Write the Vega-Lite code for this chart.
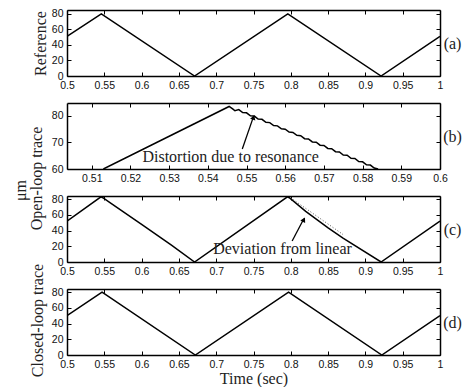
{
  "$schema": "https://vega.github.io/schema/vega-lite/v6.json",
  "padding": {"left": 12, "top": 8, "right": 0, "bottom": 0},
  "autosize": {"type": "pad"},
  "background": "white",
  "config": {
    "view": {"stroke": null},
    "axis": {"domainColor": "black", "domainWidth": 1.5, "tickColor": "black", "tickWidth": 1, "tickSize": -4, "grid": false, "labelFont": "Liberation Sans", "labelFontSize": 10.5, "labelColor": "#111", "titleFont": "Liberation Serif", "titleFontSize": 16, "titleFontWeight": "normal", "titleColor": "#222", "labelPadding": 8, "labelFlush": false, "format": "~r"},
    "line": {"color": "black", "strokeWidth": 1.5},
    "text": {"font": "Liberation Serif", "fontSize": 16, "color": "#222"}
  },
  "datasets": {
    "ref": [{"t": 0.5, "y": 51}, {"t": 0.546, "y": 80}, {"t": 0.671, "y": 0}, {"t": 0.796, "y": 80}, {"t": 0.921, "y": 0}, {"t": 1.0, "y": 51}],
    "olzoom": [{"t": 0.513, "y": 60}, {"t": 0.5455, "y": 83.4}, {"t": 0.5465, "y": 82.4}, {"t": 0.547, "y": 81.8}, {"t": 0.548, "y": 82.25}, {"t": 0.549, "y": 81.14}, {"t": 0.55, "y": 81.03}, {"t": 0.551, "y": 79.92}, {"t": 0.552, "y": 79.81}, {"t": 0.553, "y": 78.7}, {"t": 0.554, "y": 78.58}, {"t": 0.555, "y": 77.47}, {"t": 0.556, "y": 77.36}, {"t": 0.557, "y": 76.25}, {"t": 0.558, "y": 76.14}, {"t": 0.559, "y": 75.03}, {"t": 0.56, "y": 74.92}, {"t": 0.561, "y": 73.81}, {"t": 0.562, "y": 73.7}, {"t": 0.563, "y": 72.59}, {"t": 0.564, "y": 72.47}, {"t": 0.565, "y": 71.36}, {"t": 0.566, "y": 71.25}, {"t": 0.567, "y": 70.14}, {"t": 0.568, "y": 70.03}, {"t": 0.569, "y": 68.92}, {"t": 0.57, "y": 68.81}, {"t": 0.571, "y": 67.7}, {"t": 0.572, "y": 67.59}, {"t": 0.573, "y": 66.48}, {"t": 0.574, "y": 66.36}, {"t": 0.575, "y": 65.25}, {"t": 0.576, "y": 65.14}, {"t": 0.577, "y": 64.03}, {"t": 0.578, "y": 63.92}, {"t": 0.579, "y": 62.81}, {"t": 0.58, "y": 62.7}, {"t": 0.581, "y": 61.59}, {"t": 0.582, "y": 61.48}, {"t": 0.583, "y": 60.37}, {"t": 0.584, "y": 60.0}],
    "ol": [{"t": 0.5, "y": 52}, {"t": 0.5455, "y": 83}, {"t": 0.548, "y": 81.8}, {"t": 0.56, "y": 74}, {"t": 0.6, "y": 48}, {"t": 0.64, "y": 21.5}, {"t": 0.671, "y": 0}, {"t": 0.7955, "y": 83}, {"t": 0.798, "y": 81.8}, {"t": 0.82, "y": 64.5}, {"t": 0.85, "y": 43.5}, {"t": 0.87, "y": 30.5}, {"t": 0.921, "y": 0}, {"t": 1.0, "y": 52}],
    "linear": [{"t": 0.8, "y": 81.5}, {"t": 0.87, "y": 35}],
    "cl": [{"t": 0.5, "y": 50}, {"t": 0.547, "y": 80}, {"t": 0.672, "y": 0}, {"t": 0.797, "y": 80}, {"t": 0.922, "y": 0}, {"t": 1.0, "y": 50}]
  },
  "spacing": 27,
  "bounds": "flush",
  "vconcat": [
    {
      "width": 373, "height": 66,
      "data": {"name": "ref"},
      "layer": [
        {"mark": {"type": "line", "clip": true},
         "encoding": {
           "x": {"field": "t", "type": "quantitative", "scale": {"domain": [0.5, 1], "nice": false, "zero": false},
                 "axis": {"orient": "bottom", "values": [0.5, 0.55, 0.6, 0.65, 0.7, 0.75, 0.8, 0.85, 0.9, 0.95, 1], "title": null}},
           "y": {"field": "y", "type": "quantitative", "scale": {"domain": [0, 85], "nice": false},
                 "axis": {"orient": "left", "values": [0, 20, 40, 60, 80], "title": "Reference", "titleAngle": -90, "titleX": -27, "titleY": 33, "titleAlign": "center", "titleBaseline": "middle"}}
         }},
        {"mark": {"type": "line", "strokeOpacity": 0},
         "encoding": {
           "x": {"field": "t", "type": "quantitative", "scale": {"domain": [0.5, 1], "nice": false, "zero": false},
                 "axis": {"orient": "top", "values": [0.5, 0.55, 0.6, 0.65, 0.7, 0.75, 0.8, 0.85, 0.9, 0.95, 1], "labels": false, "title": null}},
           "y": {"field": "y", "type": "quantitative", "scale": {"domain": [0, 85], "nice": false},
                 "axis": {"orient": "right", "values": [0, 20, 40, 60, 80], "labels": false, "title": "(a)", "titleAngle": 0, "titleX": 12, "titleY": 33, "titleAlign": "center", "titleBaseline": "middle"}}
         }}
      ],
      "resolve": {"axis": {"x": "independent", "y": "independent"}}
    },
    {
      "width": 373, "height": 66,
      "layer": [
        {"data": {"name": "olzoom"},
         "mark": {"type": "line", "clip": true},
         "encoding": {
           "x": {"field": "t", "type": "quantitative", "scale": {"domain": [0.5036, 0.6], "nice": false, "zero": false},
                 "axis": {"orient": "bottom", "values": [0.51, 0.52, 0.53, 0.54, 0.55, 0.56, 0.57, 0.58, 0.59, 0.6], "title": null}},
           "y": {"field": "y", "type": "quantitative", "scale": {"domain": [60, 84.7], "nice": false, "zero": false},
                 "axis": {"orient": "left", "values": [60, 70, 80], "title": "μm", "titleAngle": -90, "titleX": -47, "titleY": 87, "titleAlign": "center", "titleBaseline": "middle"}}
         }},
        {"data": {"name": "olzoom"},
         "mark": {"type": "line", "strokeOpacity": 0},
         "encoding": {
           "x": {"field": "t", "type": "quantitative", "scale": {"domain": [0.5036, 0.6], "nice": false, "zero": false},
                 "axis": {"orient": "top", "values": [0.51, 0.52, 0.53, 0.54, 0.55, 0.56, 0.57, 0.58, 0.59, 0.6], "labels": false, "title": null}},
           "y": {"field": "y", "type": "quantitative", "scale": {"domain": [60, 84.7], "nice": false, "zero": false},
                 "axis": {"orient": "right", "values": [60, 70, 80], "labels": false, "title": "(b)", "titleAngle": 0, "titleX": 12, "titleY": 33, "titleAlign": "center", "titleBaseline": "middle"}}
         }},
        {"data": {"values": [{"t": 0.5231, "y": 62.6, "label": "Distortion due to resonance"}]},
         "mark": {"type": "text", "align": "left", "baseline": "alphabetic"},
         "encoding": {
           "x": {"field": "t", "type": "quantitative", "scale": {"domain": [0.5036, 0.6], "nice": false, "zero": false}, "axis": null},
           "y": {"field": "y", "type": "quantitative", "scale": {"domain": [60, 84.7], "nice": false, "zero": false}, "axis": null},
           "text": {"field": "label"}
         }},
        {"data": {"values": [{"t1": 0.5489, "y1": 67.5, "t2": 0.5518, "y2": 79.6}]},
         "mark": {"type": "rule", "color": "black", "strokeWidth": 1.3},
         "encoding": {
           "x": {"field": "t1", "type": "quantitative", "scale": {"domain": [0.5036, 0.6], "nice": false, "zero": false}, "axis": null},
           "y": {"field": "y1", "type": "quantitative", "scale": {"domain": [60, 84.7], "nice": false, "zero": false}, "axis": null},
           "x2": {"field": "t2"},
           "y2": {"field": "y2"}
         }},
        {"data": {"values": [{"t": 0.5518, "y": 79.3}]},
         "mark": {"type": "point", "shape": "triangle-up", "filled": true, "size": 30, "angle": 19, "color": "black", "opacity": 1},
         "encoding": {
           "x": {"field": "t", "type": "quantitative", "scale": {"domain": [0.5036, 0.6], "nice": false, "zero": false}, "axis": null},
           "y": {"field": "y", "type": "quantitative", "scale": {"domain": [60, 84.7], "nice": false, "zero": false}, "axis": null}
         }}
      ],
      "resolve": {"axis": {"x": "independent", "y": "independent"}}
    },
    {
      "width": 373, "height": 66,
      "layer": [
        {"data": {"name": "ol"},
         "mark": {"type": "line", "clip": true},
         "encoding": {
           "x": {"field": "t", "type": "quantitative", "scale": {"domain": [0.5, 1], "nice": false, "zero": false},
                 "axis": {"orient": "bottom", "values": [0.5, 0.55, 0.6, 0.65, 0.7, 0.75, 0.8, 0.85, 0.9, 0.95, 1], "title": null}},
           "y": {"field": "y", "type": "quantitative", "scale": {"domain": [0, 84], "nice": false},
                 "axis": {"orient": "left", "values": [0, 20, 40, 60, 80], "title": "Open-loop trace", "titleAngle": -90, "titleX": -31, "titleY": -18, "titleAlign": "center", "titleBaseline": "middle"}}
         }},
        {"data": {"name": "ol"},
         "mark": {"type": "line", "strokeOpacity": 0},
         "encoding": {
           "x": {"field": "t", "type": "quantitative", "scale": {"domain": [0.5, 1], "nice": false, "zero": false},
                 "axis": {"orient": "top", "values": [0.5, 0.55, 0.6, 0.65, 0.7, 0.75, 0.8, 0.85, 0.9, 0.95, 1], "labels": false, "title": null}},
           "y": {"field": "y", "type": "quantitative", "scale": {"domain": [0, 84], "nice": false},
                 "axis": {"orient": "right", "values": [0, 20, 40, 60, 80], "labels": false, "title": "(c)", "titleAngle": 0, "titleX": 12, "titleY": 33, "titleAlign": "center", "titleBaseline": "middle"}}
         }},
        {"data": {"name": "linear"},
         "mark": {"type": "line", "strokeDash": [1, 2], "strokeWidth": 1, "color": "#555"},
         "encoding": {
           "x": {"field": "t", "type": "quantitative", "scale": {"domain": [0.5, 1], "nice": false, "zero": false}, "axis": null},
           "y": {"field": "y", "type": "quantitative", "scale": {"domain": [0, 84], "nice": false}, "axis": null}
         }},
        {"data": {"values": [{"t": 0.696, "y": 10.2, "label": "Deviation from linear"}]},
         "mark": {"type": "text", "align": "left", "baseline": "alphabetic"},
         "encoding": {
           "x": {"field": "t", "type": "quantitative", "scale": {"domain": [0.5, 1], "nice": false, "zero": false}, "axis": null},
           "y": {"field": "y", "type": "quantitative", "scale": {"domain": [0, 84], "nice": false}, "axis": null},
           "text": {"field": "label"}
         }},
        {"data": {"values": [{"t1": 0.8018, "y1": 26.7, "t2": 0.8175, "y2": 55}]},
         "mark": {"type": "rule", "color": "black", "strokeWidth": 1.3},
         "encoding": {
           "x": {"field": "t1", "type": "quantitative", "scale": {"domain": [0.5, 1], "nice": false, "zero": false}, "axis": null},
           "y": {"field": "y1", "type": "quantitative", "scale": {"domain": [0, 84], "nice": false}, "axis": null},
           "x2": {"field": "t2"},
           "y2": {"field": "y2"}
         }},
        {"data": {"values": [{"t": 0.8175, "y": 54}]},
         "mark": {"type": "point", "shape": "triangle-up", "filled": true, "size": 30, "angle": 28, "color": "black", "opacity": 1},
         "encoding": {
           "x": {"field": "t", "type": "quantitative", "scale": {"domain": [0.5, 1], "nice": false, "zero": false}, "axis": null},
           "y": {"field": "y", "type": "quantitative", "scale": {"domain": [0, 84], "nice": false}, "axis": null}
         }}
      ],
      "resolve": {"axis": {"x": "independent", "y": "independent"}}
    },
    {
      "width": 373, "height": 66,
      "data": {"name": "cl"},
      "layer": [
        {"mark": {"type": "line", "clip": true},
         "encoding": {
           "x": {"field": "t", "type": "quantitative", "scale": {"domain": [0.5, 1], "nice": false, "zero": false},
                 "axis": {"orient": "bottom", "values": [0.5, 0.55, 0.6, 0.65, 0.7, 0.75, 0.8, 0.85, 0.9, 0.95, 1], "title": "Time (sec)", "titlePadding": 1}},
           "y": {"field": "y", "type": "quantitative", "scale": {"domain": [0, 84], "nice": false},
                 "axis": {"orient": "left", "values": [0, 20, 40, 60, 80], "title": "Closed-loop trace", "titleAngle": -90, "titleX": -30, "titleY": 31, "titleAlign": "center", "titleBaseline": "middle"}}
         }},
        {"mark": {"type": "line", "strokeOpacity": 0},
         "encoding": {
           "x": {"field": "t", "type": "quantitative", "scale": {"domain": [0.5, 1], "nice": false, "zero": false},
                 "axis": {"orient": "top", "values": [0.5, 0.55, 0.6, 0.65, 0.7, 0.75, 0.8, 0.85, 0.9, 0.95, 1], "labels": false, "title": null}},
           "y": {"field": "y", "type": "quantitative", "scale": {"domain": [0, 84], "nice": false},
                 "axis": {"orient": "right", "values": [0, 20, 40, 60, 80], "labels": false, "title": "(d)", "titleAngle": 0, "titleX": 12, "titleY": 33, "titleAlign": "center", "titleBaseline": "middle"}}
         }}
      ],
      "resolve": {"axis": {"x": "independent", "y": "independent"}}
    }
  ]
}
